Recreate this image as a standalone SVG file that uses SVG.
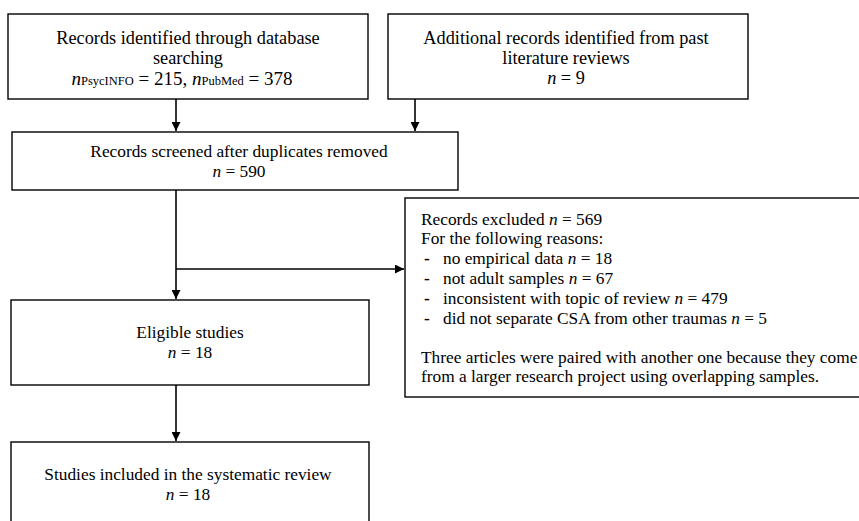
<svg xmlns="http://www.w3.org/2000/svg" width="859" height="521" viewBox="0 0 859 521">
<style>
.box{fill:#fff;stroke:#000;stroke-width:1.4}
.t{font-family:"Liberation Serif","Times New Roman",serif;font-size:17.33px;fill:#000}
.big{font-size:18.3px}
.c{text-anchor:middle}
.i{font-style:italic}
.b{font-weight:bold}
.sub{font-size:12.5px}
.line{stroke:#000;stroke-width:1.6;fill:none}
</style>
<defs>
<marker id="ah" viewBox="0 0 10 10" refX="10" refY="5" markerWidth="10" markerHeight="9" markerUnits="userSpaceOnUse" orient="auto">
<path d="M0,0 L10,5 L0,10 z" fill="#000"/>
</marker>
</defs>
<rect width="859" height="521" fill="#fff"/>
<g id="connectors">
<line class="line" x1="176" y1="99" x2="176" y2="131" marker-end="url(#ah)"/>
<line class="line" x1="415" y1="99" x2="415" y2="131" marker-end="url(#ah)"/>
<line class="line" x1="176" y1="190" x2="176" y2="299" marker-end="url(#ah)"/>
<line class="line" x1="176" y1="269" x2="404" y2="269" marker-end="url(#ah)"/>
<line class="line" x1="176" y1="385" x2="176" y2="441" marker-end="url(#ah)"/>
</g>
<g id="identified">
<rect class="box" x="8" y="14" width="360" height="85"/>
<text class="t big c" x="188" y="44">Records identified through database</text>
<text class="t big c" x="188" y="64">searching</text>
<text class="t big c" x="182" y="85" style="font-size:19px"><tspan class="i">n</tspan><tspan class="sub">PsycINFO</tspan> = 215, <tspan class="i">n</tspan><tspan class="sub">PubMed</tspan> = 378</text>
</g>
<g id="additional">
<rect class="box" x="388" y="14" width="360" height="85"/>
<text class="t big c" x="566" y="44">Additional records identified from past</text>
<text class="t big c" x="566" y="64">literature reviews</text>
<text class="t big c" x="566" y="84"><tspan class="i">n</tspan> = 9</text>
</g>
<g id="screened">
<rect class="box" x="12" y="132" width="446" height="58"/>
<text class="t c" x="239" y="157">Records screened after duplicates removed</text>
<text class="t c" x="239" y="177"><tspan class="i">n</tspan> = 590</text>
</g>
<g id="excluded">
<rect class="box" x="405" y="198" width="470" height="199"/>
<text class="t" x="421" y="225">Records excluded <tspan class="i">n</tspan> = 569</text>
<text class="t" x="421" y="244">For the following reasons:</text>
<text class="t b" x="424" y="264">-</text><text class="t" x="443" y="264">no empirical data <tspan class="i">n</tspan> = 18</text>
<text class="t b" x="424" y="284">-</text><text class="t" x="443" y="284">not adult samples <tspan class="i">n</tspan> = 67</text>
<text class="t b" x="424" y="304">-</text><text class="t" x="443" y="304">inconsistent with topic of review <tspan class="i">n</tspan> = 479</text>
<text class="t b" x="424" y="324">-</text><text class="t" x="443" y="324">did not separate CSA from other traumas <tspan class="i">n</tspan> = 5</text>
<text class="t" x="421" y="363">Three articles were paired with another one because they come</text>
<text class="t" x="421" y="382">from a larger research project using overlapping samples.</text>
</g>
<g id="eligible">
<rect class="box" x="11" y="300" width="358" height="85"/>
<text class="t c" x="190" y="338">Eligible studies</text>
<text class="t c" x="190" y="358"><tspan class="i">n</tspan> = 18</text>
</g>
<g id="included">
<rect class="box" x="11" y="442" width="358" height="100"/>
<text class="t c" x="188" y="480">Studies included in the systematic review</text>
<text class="t c" x="188" y="500"><tspan class="i">n</tspan> = 18</text>
</g>
</svg>
